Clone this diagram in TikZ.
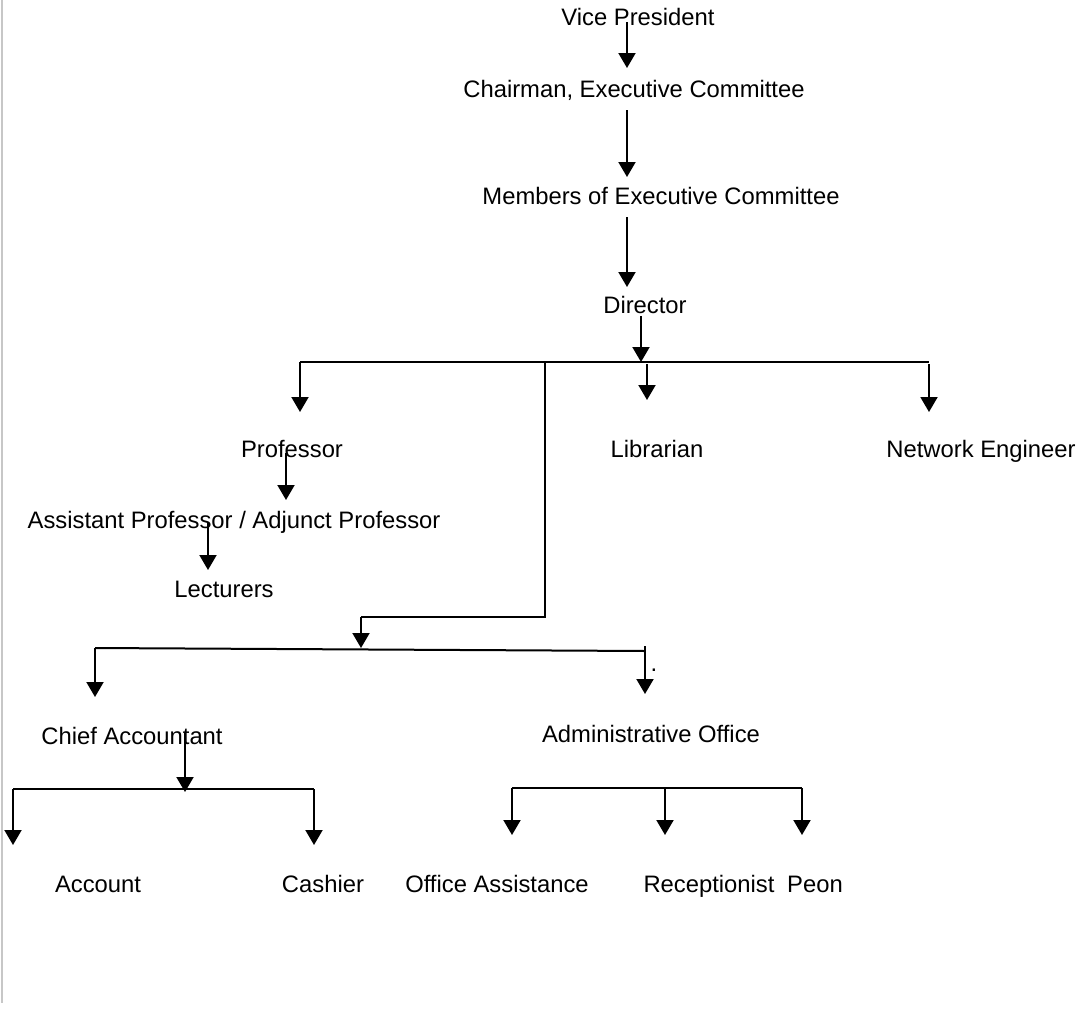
\documentclass[tikz,border=0pt]{standalone}
\usepackage{fontspec}
\setmainfont{Liberation Sans}
\usetikzlibrary{arrows.meta}

\begin{document}
\begin{tikzpicture}[x=1pt, y=-1pt,
    lbl/.style={anchor=base, inner sep=0pt, font=\fontsize{23.8pt}{28pt}\selectfont},
    arr/.style={line width=2pt, -{Triangle[width=17pt, length=15pt]}},
    bar/.style={line width=2pt}]
    \useasboundingbox (0, 0) rectangle (1081, 1009);
    \draw[black!22, line width=2.5pt] (2, 0) -- (2, 1003);

    % titles
    \node[lbl] (vp) at (638, 25) {Vice President};
    \node[lbl] (chair) at (634, 97) {Chairman, Executive Committee};
    \node[lbl] (members) at (661, 204) {Members of Executive Committee};
    \node[lbl] (director) at (645, 313) {Director};

    \node[lbl] (prof) at (292, 457) {Professor};
    \node[lbl] (lib) at (657, 457) {Librarian};
    \node[lbl] (neteng) at (981, 457) {Network Engineer};
    \node[lbl] (asst) at (234, 528) {Assistant Professor / Adjunct Professor};
    \node[lbl] (lect) at (224, 597) {Lecturers};

    \node[lbl] (chief) at (132, 744) {Chief Accountant};
    \node[lbl] (admin) at (651, 742) {Administrative Office};
    \node[lbl] (dot) at (654, 671) {.};

    \node[lbl] (account) at (98, 892) {Account};
    \node[lbl] (cashier) at (323, 892) {Cashier};
    \node[lbl] (office) at (497, 892) {Office Assistance};
    \node[lbl] (recep) at (709, 892) {Receptionist};
    \node[lbl] (peon) at (815, 892) {Peon};

    % junctions
    \coordinate (topbarL) at (300, 362);
    \coordinate (topbarR) at (929, 362);
    \coordinate (topbarM) at (545, 362);
    \coordinate (elbow) at (361, 617);
    \coordinate (midbarL) at (95, 648);
    \coordinate (midbarR) at (645, 651);
    \coordinate (accbarL) at (13, 789);
    \coordinate (accbarR) at (314, 789);
    \coordinate (admbarL) at (512, 788);
    \coordinate (admbarR) at (802, 788);

    % upper chain
    \draw[arr] (627, 22) -- (627, 68);
    \draw[arr] (627, 110) -- (627, 177);
    \draw[arr] (627, 217) -- (627, 287);
    \draw[arr] (641, 316) -- (641, 362);

    % director's bar
    \draw[bar] (topbarL) -- (topbarR);
    \draw[arr] (topbarL) -- (300, 412);
    \draw[arr] (647, 364) -- (647, 400);
    \draw[arr] (929, 364) -- (929, 412);
    \draw[bar] (topbarM) |- (elbow);
    \draw[arr] (elbow) -- (361, 648);

    \draw[arr] (286, 453) -- (286, 500);
    \draw[arr] (208, 522) -- (208, 570);

    % accounts and office
    \draw[bar] (midbarL) -- (midbarR);
    \draw[arr] (midbarL) -- (95, 697);
    \draw[arr] (645, 646) -- (645, 694);

    \draw[arr] (185, 733) -- (185, 792);
    \draw[bar] (accbarL) -- (accbarR);
    \draw[arr] (accbarL) -- (13, 845);
    \draw[arr] (accbarR) -- (314, 845);

    \draw[bar] (admbarL) -- (admbarR);
    \draw[arr] (admbarL) -- (512, 835);
    \draw[arr] (665, 788) -- (665, 835);
    \draw[arr] (admbarR) -- (802, 835);
\end{tikzpicture}
\end{document}
